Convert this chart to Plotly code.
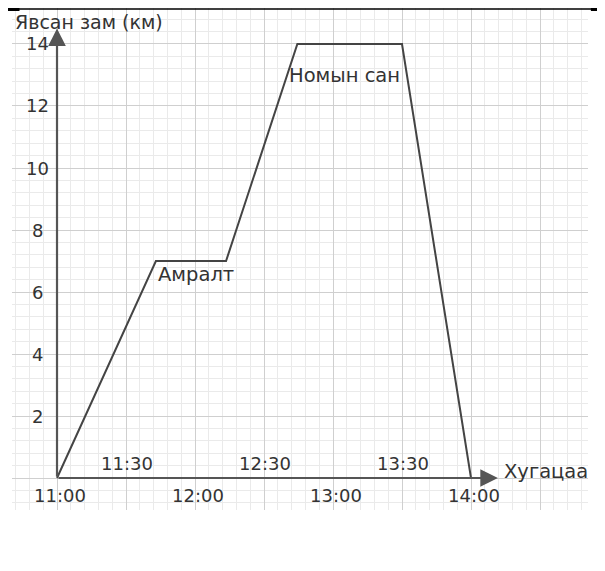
import plotly.graph_objects as go

# minutes after 11:00 and distance travelled (km)
minutes = [0, 43, 73.5, 104.5, 150, 180]
distance = [0, 7, 7, 14, 14, 0]

y_ticks = [2, 4, 6, 8, 10, 12, 14]
x_ticks_low = [0, 60, 120, 180]
x_labels_low = ["11:00", "12:00", "13:00", "14:00"]
x_ticks_high = [30, 90, 150]
x_labels_high = ["11:30", "12:30", "13:30"]

FONT = "DejaVu Sans"
TXT = "#333333"
AX = "#555555"

fig = go.Figure()
fig.add_trace(go.Scatter(
    x=minutes, y=distance, mode="lines",
    line=dict(color="#444444", width=2),
    hoverinfo="skip", showlegend=False,
))

ann = []
# axes with arrows
ann.append(dict(x=191.7, y=0, ax=0, ay=0, xref="x", yref="y", axref="x", ayref="y",
                text="", showarrow=True, arrowhead=2, arrowsize=1.6, arrowwidth=2.2,
                arrowcolor=AX))
ann.append(dict(x=0, y=14.5, ax=0, ay=0, xref="x", yref="y", axref="x", ayref="y",
                text="", showarrow=True, arrowhead=2, arrowsize=1.6, arrowwidth=2.2,
                arrowcolor=AX))

for v in y_ticks:
    ann.append(dict(x=-8.3, y=v, text=str(v), showarrow=False, xanchor="center",
                    yanchor="middle", font=dict(family=FONT, size=18, color=TXT)))
for v, t in zip(x_ticks_low, x_labels_low):
    ann.append(dict(x=v + 1.2, y=-0.55, text=t, showarrow=False, xanchor="center",
                    yanchor="middle", font=dict(family=FONT, size=18, color=TXT)))
for v, t in zip(x_ticks_high, x_labels_high):
    ann.append(dict(x=v + 0.5, y=0.47, text=t, showarrow=False, xanchor="center",
                    yanchor="middle", font=dict(family=FONT, size=18, color=TXT)))

ann.append(dict(x=-19.2, y=15.12, text="Явсан зам (км)", showarrow=False, xanchor="left",
                yanchor="top", font=dict(family=FONT, size=19, color=TXT)))
ann.append(dict(x=193.5, y=0.2, text="Хугацаа", showarrow=False, xanchor="left",
                yanchor="middle", font=dict(family=FONT, size=19.5, color=TXT)))
ann.append(dict(x=43.2, y=6.55, text="Амралт", showarrow=False, xanchor="left",
                yanchor="middle", font=dict(family=FONT, size=19.5, color=TXT)))
ann.append(dict(x=150, y=12.97, text="Номын сан", showarrow=False, xanchor="right",
                yanchor="middle", font=dict(family=FONT, size=19.5, color=TXT)))

fig.update_layout(
    width=605, height=571,
    margin=dict(l=4, r=25, t=0, b=69),
    paper_bgcolor="white", plot_bgcolor="white",
    annotations=ann,
    xaxis=dict(range=[-19.57, 230.87], tick0=0, dtick=30, showgrid=True,
               gridcolor="#cfcfcf", gridwidth=1.4, showticklabels=False,
               zeroline=False, ticks="", fixedrange=True,
               minor=dict(tick0=0, dtick=6, showgrid=True, gridcolor="#eaeaea",
                          gridwidth=1)),
    yaxis=dict(range=[-1.032, 15.161], tick0=0, dtick=2, showgrid=True,
               gridcolor="#cfcfcf", gridwidth=1.4, showticklabels=False,
               zeroline=False, ticks="", fixedrange=True,
               minor=dict(tick0=0, dtick=0.4, showgrid=True, gridcolor="#eaeaea",
                          gridwidth=1)),
    shapes=[
        dict(type="line", xref="paper", yref="paper", x0=-0.02, x1=1.05,
             y0=0.998, y1=0.998, line=dict(color="black", width=1.5)),
        dict(type="line", xref="paper", yref="paper", x0=-0.02, x1=0.013,
             y0=0.997, y1=0.997, line=dict(color="black", width=3)),
        dict(type="line", xref="paper", yref="paper", x0=1.005, x1=1.05,
             y0=0.997, y1=0.997, line=dict(color="black", width=3)),
    ],
)

fig.write_html("out.html")
